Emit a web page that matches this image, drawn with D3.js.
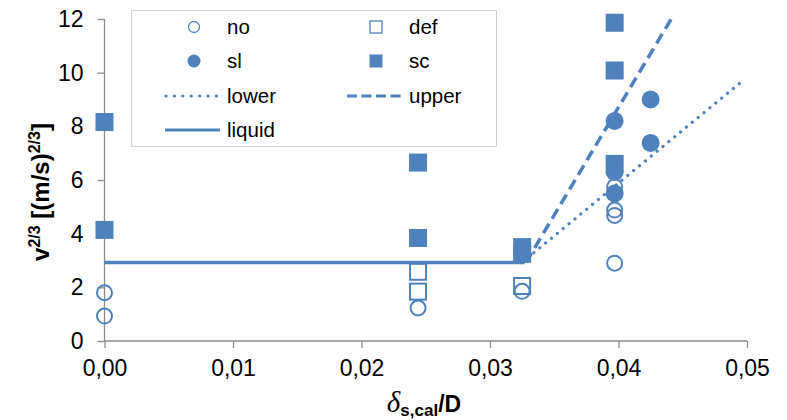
<!DOCTYPE html>
<html>
<head>
<meta charset="utf-8">
<script src="https://cdn.jsdelivr.net/npm/d3@7"></script>
<style>
  body { margin: 0; background: #fff; }
  text { font-family: "Liberation Sans", Arial, sans-serif; fill: #000; }
</style>
</head>
<body>
<div id="chart"></div>
<script>
// data: [x, y] pairs
let noPts = [[0, 1.8], [0, 0.93], [0.0244, 1.23], [0.0325, 1.85], [0.0397, 5.75], [0.0397, 4.88], [0.0397, 4.68], [0.0397, 2.9]];
let defPts = [[0.0244, 2.58], [0.0244, 1.84], [0.0325, 2.05]];
let slPts = [[0.0397, 8.2], [0.0397, 6.3], [0.0397, 5.5], [0.0425, 9.0], [0.0425, 7.38]];
let scPts = [[0, 8.16], [0, 4.14], [0.0244, 6.65], [0.0244, 3.84], [0.0325, 3.5], [0.0325, 3.25], [0.0397, 11.86], [0.0397, 10.08], [0.0397, 6.6]];
let liquidLine = [[0, 2.93], [0.0327, 2.93]];
let lowerLine = [[0.0325, 2.93], [0.0498, 9.75]];
let upperLine = [[0.0328, 2.93], [0.0441, 12]];
let xTicks = [0, 0.01, 0.02, 0.03, 0.04, 0.05];
let yTicks = [0, 2, 4, 6, 8, 10, 12];

let svgWidth = 787;
let svgHeight = 420;
let margin = { top: 19, right: 40, bottom: 79, left: 104.5 };
let chartWidth = 747 - margin.left;
let chartHeight = svgHeight - margin.top - margin.bottom;

let blue = '#4f81bd';
let axisColor = '#8c8c8c';

let svg = d3.select('#chart').append('svg')
  .attr('width', svgWidth)
  .attr('height', svgHeight);

let g = svg.append('g')
  .attr('transform', `translate(${margin.left}, ${margin.top})`);

let x = d3.scaleLinear().domain([0, 0.05]).range([0, chartWidth]);
let y = d3.scaleLinear().domain([0, 12]).range([chartHeight, 0]);

// axes
let fmt = d => d3.format('.2f')(d).replace('.', ',');
let xAxis = g.append('g')
  .attr('transform', `translate(0, ${chartHeight})`)
  .call(d3.axisBottom(x).tickValues(xTicks).tickFormat(fmt).tickSize(7).tickPadding(12));
let yAxis = g.append('g')
  .call(d3.axisLeft(y).tickValues(yTicks).tickSize(7).tickPadding(14));

[xAxis, yAxis].forEach(a => {
  a.select('.domain').attr('stroke', axisColor).attr('stroke-width', 1.3);
  a.selectAll('.tick line').attr('stroke', axisColor).attr('stroke-width', 1.3);
  a.selectAll('.tick text')
    .style('font-family', '"Liberation Sans", Arial, sans-serif')
    .style('font-size', '23px')
    .attr('fill', '#000');
});
xAxis.select('.domain').attr('d', `M0,0H${chartWidth}`);
yAxis.select('.domain').attr('d', `M0,0V${chartHeight}`);

// lines
let line = d3.line().x(d => x(d[0])).y(d => y(d[1]));
g.append('path').datum(liquidLine)
  .attr('d', line).attr('fill', 'none')
  .attr('stroke', blue).attr('stroke-width', 3.5);
g.append('path').datum(lowerLine)
  .attr('d', line).attr('fill', 'none')
  .attr('stroke', blue).attr('stroke-width', 3.2)
  .attr('stroke-linecap', 'round')
  .attr('stroke-dasharray', '0.1 7.5');
g.append('path').datum(upperLine)
  .attr('d', line).attr('fill', 'none')
  .attr('stroke', blue).attr('stroke-width', 3.5)
  .attr('stroke-dasharray', '11 6');

// markers
let r = 8.5;
let side = 18;
g.selectAll('.no').data(noPts).enter().append('circle')
  .attr('cx', d => x(d[0])).attr('cy', d => y(d[1])).attr('r', r - 1)
  .attr('fill', 'none').attr('stroke', blue).attr('stroke-width', 2);
g.selectAll('.def').data(defPts).enter().append('rect')
  .attr('x', d => x(d[0]) - side / 2 + 1).attr('y', d => y(d[1]) - side / 2 + 1)
  .attr('width', side - 2).attr('height', side - 2)
  .attr('fill', 'none').attr('stroke', blue).attr('stroke-width', 2);
g.selectAll('.sl').data(slPts).enter().append('circle')
  .attr('cx', d => x(d[0])).attr('cy', d => y(d[1])).attr('r', r + 0.5)
  .attr('fill', blue);
g.selectAll('.sc').data(scPts).enter().append('rect')
  .attr('x', d => x(d[0]) - side / 2).attr('y', d => y(d[1]) - side / 2)
  .attr('width', side).attr('height', side)
  .attr('fill', blue);

// legend
let legend = svg.append('g');
legend.append('rect')
  .attr('x', 131.5).attr('y', 10.5).attr('width', 365).attr('height', 136)
  .attr('fill', '#fff').attr('stroke', '#d0d0d0').attr('stroke-width', 1);

let legendItems = [
  { name: 'no', col: 0, row: 0, kind: 'openCircle' },
  { name: 'def', col: 1, row: 0, kind: 'openSquare' },
  { name: 'sl', col: 0, row: 1, kind: 'circle' },
  { name: 'sc', col: 1, row: 1, kind: 'square' },
  { name: 'lower', col: 0, row: 2, kind: 'dot' },
  { name: 'upper', col: 1, row: 2, kind: 'dash' },
  { name: 'liquid', col: 0, row: 3, kind: 'solid' }
];
let colX = [194, 376];
let rowY = [27, 61, 96, 130];

legendItems.forEach(item => {
  let cx = colX[item.col];
  let cy = rowY[item.row];
  if (item.kind === 'openCircle') {
    legend.append('circle').attr('cx', cx).attr('cy', cy).attr('r', 5.5)
      .attr('fill', 'none').attr('stroke', blue).attr('stroke-width', 1.3);
  } else if (item.kind === 'circle') {
    legend.append('circle').attr('cx', cx).attr('cy', cy).attr('r', 6.5).attr('fill', blue);
  } else if (item.kind === 'openSquare') {
    legend.append('rect').attr('x', cx - 6).attr('y', cy - 6).attr('width', 12).attr('height', 12)
      .attr('fill', 'none').attr('stroke', blue).attr('stroke-width', 1.3);
  } else if (item.kind === 'square') {
    legend.append('rect').attr('x', cx - 6.5).attr('y', cy - 6.5).attr('width', 13).attr('height', 13)
      .attr('fill', blue);
  } else {
    let l = legend.append('line')
      .attr('x1', cx - 29).attr('x2', cx + 26).attr('y1', cy).attr('y2', cy)
      .attr('stroke', blue).attr('stroke-width', 3.2);
    if (item.kind === 'dot') l.attr('stroke-linecap', 'round').attr('stroke-dasharray', '0.1 8.3').attr('x1', cx - 28);
    if (item.kind === 'dash') l.attr('stroke-dasharray', '10 4.5');
  }
  legend.append('text')
    .attr('x', cx + 33).attr('y', cy + 7)
    .style('font-size', '20.5px')
    .text(item.name);
});

// y axis title
let yTitle = svg.append('text')
  .attr('transform', 'translate(49, 192) rotate(-90)')
  .attr('text-anchor', 'middle')
  .style('font-size', '24px')
  .style('font-weight', 'bold');
yTitle.append('tspan').text('v');
yTitle.append('tspan').attr('dy', -9).style('font-size', '16px').text('2/3');
yTitle.append('tspan').attr('dy', 9).text(' [(m/s)');
yTitle.append('tspan').attr('dy', -9).style('font-size', '16px').text('2/3');
yTitle.append('tspan').attr('dy', 9).text(']');

// x axis title
let xTitle = svg.append('text')
  .attr('x', 424).attr('y', 412)
  .attr('text-anchor', 'middle')
  .style('font-size', '23px')
  .style('font-weight', 'bold');
xTitle.append('tspan')
  .style('font-family', '"Liberation Serif", "DejaVu Serif", serif')
  .style('font-style', 'italic')
  .style('font-weight', 'normal')
  .style('font-size', '29px')
  .text('δ');
xTitle.append('tspan').attr('dy', 4).style('font-size', '17px').text('s,cal');
xTitle.append('tspan').attr('dy', -4).text('/D');
</script>
</body>
</html>
